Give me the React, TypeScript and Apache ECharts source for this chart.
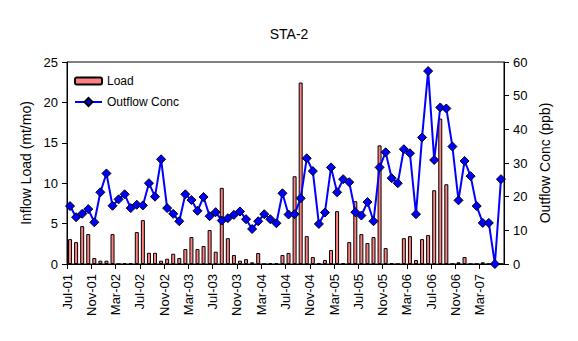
import React, { useEffect, useRef } from "react";
import * as echarts from "echarts";

// Monthly series, Jul-01 .. Jun-07 (72 months)
const loadValues: number[] = [
  3.08, 2.71, 4.69, 3.7, 0.74, 0.41, 0.41, 3.7, 0, 0.12,
  0.12, 3.95, 5.43, 1.39, 1.39, 0.41, 0.65, 1.27, 0.74, 1.85,
  3.33, 1.85, 2.22, 4.2, 1.52, 9.42, 3.2, 1.11, 0.41, 0.6,
  0.21, 1.36, 0, 0.12, 0.12, 1.11, 1.36, 10.86, 22.46, 3.45,
  0.86, 0.12, 0.49, 1.73, 6.54, 0.12, 2.71, 7.77, 3.7, 2.59,
  3.33, 14.68, 1.97, 0.12, 0, 3.2, 3.45, 0.49, 3.08, 3.58,
  9.13, 18.0, 9.87, 0, 0.21, 0.86, 0, 0, 0.21, 0,
  0, 0,
];

const concValues: number[] = [
  17.2, 13.9, 14.9, 16.3, 12.4, 21.3, 26.9, 17.3, 19.2, 20.7,
  16.6, 17.6, 17.4, 24.0, 20.0, 31.1, 16.6, 14.9, 12.7, 20.7,
  19.0, 15.8, 19.9, 14.2, 15.4, 12.9, 13.6, 14.6, 15.6, 13.3,
  10.4, 12.7, 14.8, 13.3, 12.1, 21.0, 14.7, 14.8, 19.5, 31.4,
  27.6, 11.9, 15.3, 28.7, 21.3, 25.2, 24.3, 15.4, 14.4, 18.4,
  12.7, 28.7, 33.2, 25.5, 24.0, 34.1, 32.9, 14.8, 37.6, 57.3,
  30.9, 46.5, 46.2, 34.9, 18.9, 30.6, 26.1, 17.2, 12.2, 12.2,
  0, 25.2,
];

// Tick labels every 4 months
const tickLabels: string[] = [
  "Jul-01", "Nov-01", "Mar-02", "Jul-02", "Nov-02", "Mar-03",
  "Jul-03", "Nov-03", "Mar-04", "Jul-04", "Nov-04", "Mar-05",
  "Jul-05", "Nov-05", "Mar-06", "Jul-06", "Nov-06", "Mar-07",
];

const FONT = "Liberation Sans, Arial, sans-serif";

export default function App() {
  const ref = useRef<HTMLDivElement>(null);

  useEffect(() => {
    if (!ref.current) return;
    const chart = echarts.init(ref.current, undefined, { renderer: "svg" });

    const barData = loadValues.map((v, i) => [i + 0.5, v]);
    const lineData = concValues.map((v, i) => [i + 0.5, v]);

    chart.setOption({
      animation: false,
      backgroundColor: "#ffffff",
      textStyle: { fontFamily: FONT, color: "#000" },
      title: {
        text: "STA-2",
        left: "center",
        top: 22,
        textStyle: { fontFamily: FONT, fontSize: 14, fontWeight: "normal", color: "#000" },
      },
      legend: [
        {
          data: ["Load"],
          left: 74,
          top: 75,
          padding: 0,
          itemWidth: 27,
          itemHeight: 7,
          textStyle: { fontFamily: FONT, fontSize: 12, color: "#000" },
        },
        {
          data: ["Outflow Conc"],
          left: 74,
          top: 96,
          padding: 0,
          itemWidth: 27,
          itemHeight: 10,
          textStyle: { fontFamily: FONT, fontSize: 12, color: "#000" },
        },
      ],
      grid: {
        left: 67,
        top: 62,
        width: 437,
        height: 202,
        show: true,
        borderColor: "#000",
        borderWidth: 1,
        backgroundColor: "transparent",
      },
      xAxis: {
        type: "value",
        min: 0,
        max: 72,
        interval: 4,
        axisLine: { show: true, lineStyle: { color: "#000", width: 1 } },
        axisTick: { show: true, length: 5, lineStyle: { color: "#000" } },
        splitLine: { show: false },
        axisLabel: {
          rotate: 90,
          margin: 10,
          fontFamily: FONT,
          fontSize: 13,
          color: "#000",
          showMaxLabel: false,
          formatter: (v: number) => {
            const k = Math.round(v / 4);
            return tickLabels[k] ?? "";
          },
        },
      },
      yAxis: [
        {
          type: "value",
          min: 0,
          max: 25,
          interval: 5,
          name: "Inflow Load (mt/mo)",
          nameLocation: "middle",
          nameGap: 31,
          nameTextStyle: { fontFamily: FONT, fontSize: 14, color: "#000" },
          axisLine: { show: true, lineStyle: { color: "#000", width: 1 } },
          axisTick: { show: true, length: 5, lineStyle: { color: "#000" } },
          splitLine: { show: false },
          axisLabel: { margin: 9, fontFamily: FONT, fontSize: 13, color: "#000" },
        },
        {
          type: "value",
          min: 0,
          max: 60,
          interval: 10,
          position: "right",
          name: "Outflow Conc (ppb)",
          nameLocation: "middle",
          nameRotate: 90,
          nameGap: 30,
          nameTextStyle: { fontFamily: FONT, fontSize: 14, color: "#000" },
          axisLine: { show: true, lineStyle: { color: "#000", width: 1 } },
          axisTick: { show: true, length: 5, lineStyle: { color: "#000" } },
          splitLine: { show: false },
          axisLabel: { margin: 9, fontFamily: FONT, fontSize: 13, color: "#000" },
        },
      ],
      series: [
        {
          name: "Load",
          type: "bar",
          xAxisIndex: 0,
          yAxisIndex: 0,
          data: barData,
          barWidth: 4,
          itemStyle: { color: "#FF8080", borderColor: "#000", borderWidth: 1 },
        },
        {
          name: "Outflow Conc",
          type: "line",
          xAxisIndex: 0,
          yAxisIndex: 1,
          data: lineData,
          symbol: "diamond",
          symbolSize: 9,
          lineStyle: { color: "#0000FF", width: 2 },
          itemStyle: { color: "#0000FF", borderColor: "#000", borderWidth: 1 },
          z: 3,
        },
      ],
    });

    return () => chart.dispose();
  }, []);

  return (
    <div
      ref={ref}
      style={{ position: "fixed", left: 0, top: 0, width: 578, height: 341 }}
    />
  );
}
